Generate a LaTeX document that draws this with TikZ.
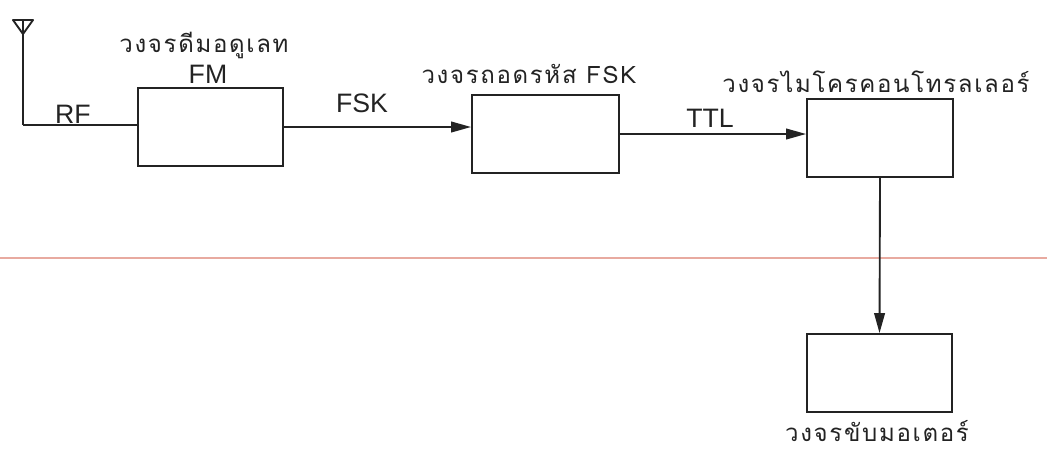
\documentclass[tikz,border=0pt]{standalone}
\usepackage{fontspec}
\setmainfont{Liberation Sans}
\newfontfamily\thaifont[Script=Thai,LetterSpace=7]{Loma}
\usetikzlibrary{arrows.meta}
\definecolor{ink}{RGB}{35,35,35}
\definecolor{scanline}{RGB}{232,170,160}
\tikzset{
  x=0.75pt, y=-0.75pt,
  blockbox/.style={draw=ink, line width=1.4pt, minimum width=145*0.75pt, minimum height=78*0.75pt, inner sep=0pt},
  wire/.style={draw=ink, line width=1.4pt},
  sig/.style={wire, -{Triangle[length=15pt,width=8pt]}},
  thailabel/.style={text=ink, font=\thaifont\fontsize{18}{21}\selectfont, inner sep=0pt},
  latinlabel/.style={text=ink, font=\fontsize{20}{23}\selectfont, inner sep=0pt, text height=14.5pt, text depth=0pt}
}
\begin{document}
\begin{tikzpicture}
\useasboundingbox (0,0) rectangle (1047,451);
\fill[white] (0,0) rectangle (1047,451);
% faint scan line
\draw[scanline, line width=0.8pt] (0,258) -- (1047,258);
% antenna
\coordinate (anttop) at (23,20);
\coordinate (antbase) at (23,125);
\draw[wire, line join=round] (13,20) -- (33,20) -- (23,34) -- cycle;
\draw[wire] (anttop) -- (antbase);
% blocks
\node[blockbox] (demod) at (210.5,127) {};
\node[blockbox, minimum width=147*0.75pt] (fskdec) at (545.5,134) {};
\node[blockbox, minimum width=146*0.75pt] (mcu) at (880,138) {};
\node[blockbox] (motor) at (879.5,373) {};
% titles
\node[thailabel, anchor=base] (t1) at (204,52) {วงจรดีมอดูเลท};
\node[latinlabel, anchor=base] (t1b) at (208,83) {FM};
\node[thailabel, anchor=base] (t2) at (529,83) {วงจรถอดรหัส FSK};
\node[thailabel, anchor=base] (t3) at (876,92) {วงจรไมโครคอนโทรลเลอร์};
\node[thailabel, anchor=base] (t4) at (877,441) {วงจรขับมอเตอร์};
% connectors
\draw[wire] (antbase) -- (antbase -| demod.west);
\node[latinlabel, anchor=base] (rf) at (73,123) {RF};
\draw[sig] (demod.east) -- (demod.east -| fskdec.west);
\node[latinlabel, anchor=base] (fsk) at (362,112) {FSK};
\draw[sig] (fskdec.east) -- (fskdec.east -| mcu.west);
\node[latinlabel, anchor=base] (ttl) at (710,127) {TTL};
\draw[sig] (mcu.south) -- (motor.north);
\end{tikzpicture}
\end{document}
